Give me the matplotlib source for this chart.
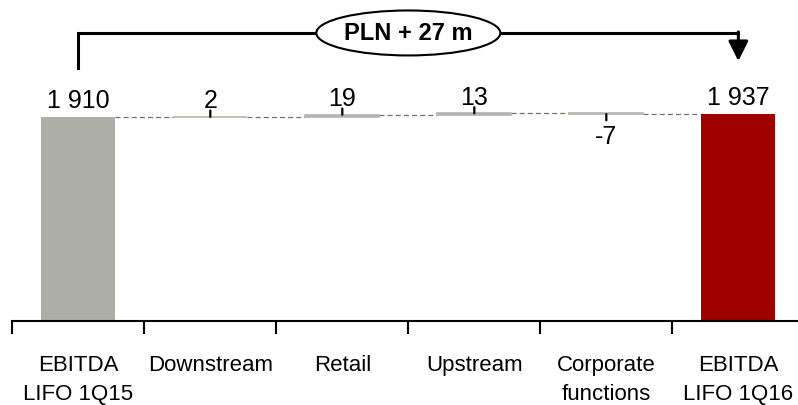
import matplotlib
matplotlib.use("Agg")
import matplotlib.pyplot as plt
from matplotlib.patches import Ellipse

plt.rcParams["font.family"] = ["Liberation Sans", "DejaVu Sans"]

# ── data ──────────────────────────────────────────────
categories = ["EBITDA\nLIFO 1Q15", "Downstream", "Retail", "Upstream",
              "Corporate\nfunctions", "EBITDA\nLIFO 1Q16"]
start_value = 1910
deltas = [2, 19, 13, -7]
end_value = 1937
labels = ["1 910", "2", "19", "13", "-7", "1 937"]
change_text = "PLN + 27 m"

GREY = "#AEAEA8"
LIGHT = "#B4B4B0"
RED = "#9E0000"

fig = plt.figure(figsize=(7.98, 4.06), dpi=100)
ax = fig.add_axes([12.3 / 798, 84 / 406, 1 - 12.3 / 798, 322 / 406])
ax.set_xlim(-0.5, 5.452)
ax.set_ylim(0, 3015)

W = 0.56

# totals
ax.bar(0, start_value, W, color=GREY, zorder=2)
ax.bar(5, end_value, W, color=RED, zorder=2)

# floating deltas
running = start_value
levels = [start_value]
for i, d in enumerate(deltas, start=1):
    bottom = running if d >= 0 else running + d
    ax.bar(i, abs(d), W, bottom=bottom, color=LIGHT, edgecolor=LIGHT,
           linewidth=1.2, zorder=2)
    running += d
    levels.append(running)

# dashed connectors
for i, lv in enumerate(levels):
    ax.plot([i + W / 2, i + 1 - W / 2], [lv, lv], color="#707070",
            lw=0.9, ls=(0, (4, 2.5)), zorder=1)

# value labels
tops = [start_value] + [max(levels[i], levels[i + 1]) for i in range(4)] + [end_value]
bots = [0] + [min(levels[i], levels[i + 1]) for i in range(4)] + [0]
vals = [start_value] + deltas + [end_value]
for i, (lab, v) in enumerate(zip(labels, vals)):
    if 1 <= i <= 4:
        if v >= 0:
            ax.annotate("", xy=(i, tops[i]), xytext=(0, 4.5), textcoords="offset points",
                        arrowprops=dict(arrowstyle="-", lw=1.6, color="black",
                                        shrinkA=0, shrinkB=0))
        else:
            ax.annotate("", xy=(i, bots[i]), xytext=(0, -4.5), textcoords="offset points",
                        arrowprops=dict(arrowstyle="-", lw=1.6, color="black",
                                        shrinkA=0, shrinkB=0))
    if v >= 0:
        ax.annotate(lab, xy=(i, tops[i]), xytext=(0, 7), textcoords="offset points",
                    ha="center", va="baseline", fontsize=18)
    else:
        ax.annotate(lab, xy=(i, bots[i]), xytext=(0, -21), textcoords="offset points",
                    ha="center", va="baseline", fontsize=18)

# bracket with arrow
y_br = 2697
ax.plot([0, 0, 5], [2369, y_br, y_br], color="black", lw=2.2,
        solid_joinstyle="miter", zorder=3)
ax.annotate("", xy=(5, 2434), xytext=(5, y_br + 10),
            arrowprops=dict(arrowstyle="-|>,head_length=1.2,head_width=0.6",
                            lw=2.2, color="black", shrinkA=0, shrinkB=0),
            zorder=3)
ax.add_patch(Ellipse((2.5, y_br), 1.394, 421, facecolor="white",
                     edgecolor="black", lw=1.5, zorder=4))
ax.text(2.5, y_br, change_text, ha="center", va="center", fontsize=17,
        fontweight="bold", zorder=5)

# axes styling
for s in ["top", "left", "right"]:
    ax.spines[s].set_visible(False)
ax.spines["bottom"].set_linewidth(1.5)
ax.set_yticks([])
ax.set_xticks(range(len(categories)))
ax.set_xticklabels(categories, fontsize=16, linespacing=1.5)
ax.set_xticks([i - 0.5 for i in range(len(categories))], minor=True)
ax.tick_params(axis="x", which="major", length=0, pad=24)
ax.tick_params(axis="x", which="minor", length=9, width=1.5, direction="out")

fig.savefig("out.png", dpi=100)
